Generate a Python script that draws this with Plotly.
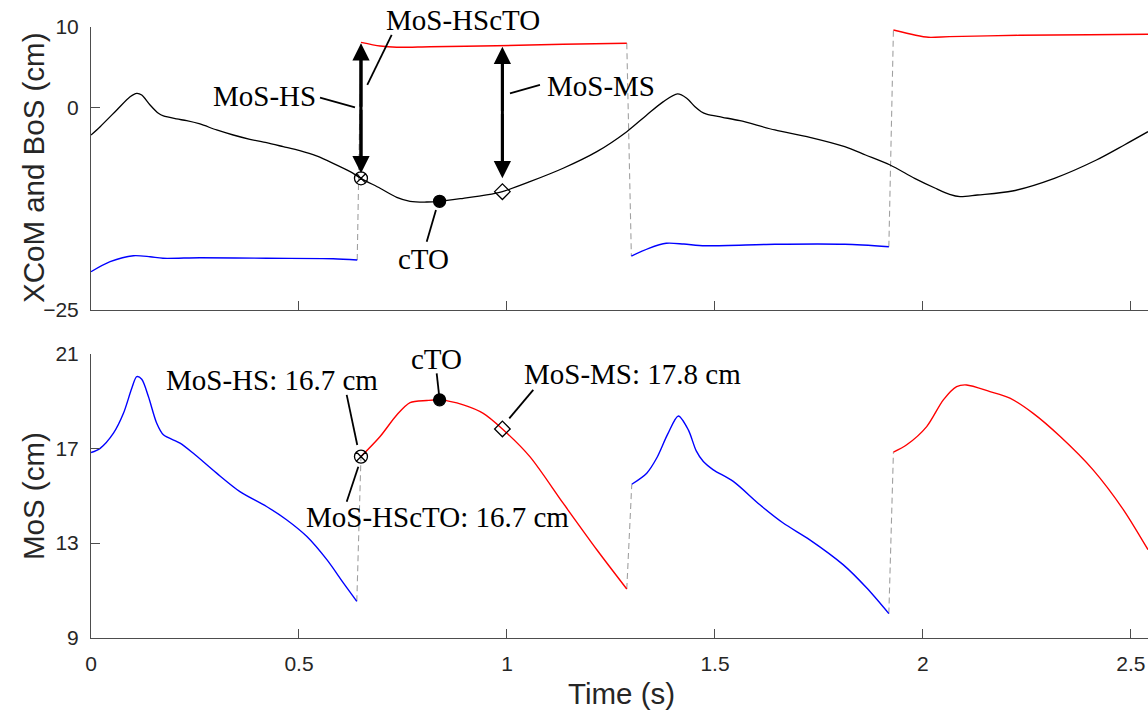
import plotly.graph_objects as go

# ---------------- data ----------------
# Top panel: XCoM (black)
xcom_t = [0.000, 0.022, 0.062, 0.094, 0.110, 0.122, 0.142, 0.162, 0.174, 0.206, 0.230, 0.262,
          0.302, 0.342, 0.382, 0.422, 0.462, 0.502, 0.542, 0.582, 0.623, 0.649, 0.695, 0.735,
          0.767, 0.807, 0.838, 0.895, 0.951, 0.989, 1.055, 1.135, 1.216, 1.288, 1.336, 1.376,
          1.410, 1.432, 1.452, 1.467, 1.480, 1.518, 1.560, 1.644, 1.728, 1.812, 1.862, 1.921,
          1.980, 2.030, 2.064, 2.089, 2.131, 2.215, 2.316, 2.417, 2.484, 2.541]
xcom_v = [-3.38, -2.35, -0.29, 1.35, 1.77, 1.56, 0.33, -0.70, -1.03, -1.40, -1.61, -2.02,
          -2.76, -3.38, -3.91, -4.33, -4.82, -5.32, -5.97, -6.88, -7.91, -8.73, -9.96, -11.08,
          -11.57, -11.66, -11.57, -11.20, -10.79, -10.38, -9.15, -7.49, -5.44, -2.97, -0.91, 0.74,
          1.69, 1.16, 0.10, -0.50, -0.80, -1.19, -1.61, -2.76, -3.66, -4.82, -5.85, -7.09,
          -8.73, -9.96, -10.71, -11.00, -10.79, -10.30, -8.73, -6.47, -4.61, -2.97]

# Top panel: BoS segments
bos_blue1_t = [0.000, 0.046, 0.102, 0.142, 0.173, 0.262, 0.422, 0.582, 0.640]
bos_blue1_v = [-20.27, -19.03, -18.29, -18.42, -18.61, -18.54, -18.61, -18.66, -18.82]
bos_red1_t = [0.649, 0.695, 0.735, 0.815, 0.975, 1.135, 1.288]
bos_red1_v = [8.07, 7.62, 7.46, 7.53, 7.65, 7.83, 7.95]
bos_blue2_t = [1.299, 1.341, 1.383, 1.425, 1.476, 1.644, 1.812, 1.918]
bos_blue2_v = [-18.33, -17.38, -16.76, -16.85, -17.06, -16.88, -16.88, -17.18]
bos_red2_t = [1.929, 1.980, 2.013, 2.064, 2.232, 2.400, 2.541]
bos_red2_v = [9.59, 8.97, 8.69, 8.77, 8.94, 9.01, 9.06]

# Bottom panel: MoS segments
mos_blue1_t = [0.000, 0.022, 0.054, 0.078, 0.098, 0.110, 0.122, 0.138, 0.158, 0.174, 0.214,
               0.246, 0.302, 0.358, 0.422, 0.470, 0.519, 0.567, 0.607, 0.639]
mos_blue1_v = [16.83, 17.01, 17.65, 18.49, 19.55, 20.04, 19.93, 19.20, 18.07, 17.58, 17.23,
               16.80, 15.96, 15.18, 14.55, 13.99, 13.28, 12.30, 11.31, 10.54]
mos_red1_t = [0.649, 0.695, 0.735, 0.767, 0.807, 0.839, 0.895, 0.943, 0.989, 1.055, 1.135, 1.216, 1.288]
mos_red1_v = [16.66, 17.51, 18.42, 18.94, 19.03, 19.06, 18.85, 18.49, 17.83, 16.66, 14.69, 12.72, 11.06]
mos_blue2_t = [1.300, 1.336, 1.360, 1.386, 1.412, 1.436, 1.455, 1.472, 1.496, 1.544, 1.608,
               1.664, 1.728, 1.808, 1.865, 1.918]
mos_blue2_v = [15.49, 15.96, 16.60, 17.60, 18.38, 17.79, 16.90, 16.45, 16.10, 15.61, 14.62,
               13.85, 13.14, 12.09, 11.10, 10.02]
mos_red2_t = [1.929, 1.961, 2.009, 2.049, 2.081, 2.105, 2.161, 2.209, 2.265, 2.330, 2.409, 2.482, 2.541]
mos_red2_v = [16.85, 17.16, 17.93, 19.06, 19.62, 19.69, 19.41, 19.13, 18.49, 17.51, 16.10, 14.41, 12.72]

# Events: HS, cTO, MS
event_t = [0.649, 0.838, 0.989]
event_xcom = [-8.73, -11.57, -10.38]
event_mos = [16.66, 19.06, 17.83]
event_symbols = ["circle-x-open", "circle", "diamond-open"]
event_sizes = [13, 12, 12]

# Double arrows (top panel): time, upper tip, lower tip
arrow_t = [0.649, 0.989]
arrow_top = [7.95, 7.53]
arrow_bottom = [-8.11, -8.73]

# Tick labels
x_ticks = [0, 0.5, 1, 1.5, 2, 2.5]
x_ticktext = ["0", "0.5", "1", "1.5", "2", "2.5"]
y1_ticks = [-25, 0, 10]
y2_ticks = [9, 13, 17, 21]

# ---------------- figure ----------------
W, H = 1148, 713
RED, BLUE, BLACK, GRAY = "#ff0000", "#0000ff", "#000000", "#a0a0a0"
AX = "#4d4d4d"

fig = go.Figure()

def line(t, v, color, xa, ya, width=1.4, dash=None, spline=True):
    fig.add_trace(go.Scatter(
        x=t, y=v, mode="lines", xaxis=xa, yaxis=ya, showlegend=False, hoverinfo="skip",
        line=dict(color=color, width=width, dash=dash,
                  shape="spline" if spline else "linear", smoothing=0.8)))

# dashed connectors (top)
for a_t, a_v, b_t, b_v in [(bos_blue1_t, bos_blue1_v, bos_red1_t, bos_red1_v),
                           (bos_red1_t, bos_red1_v, bos_blue2_t, bos_blue2_v),
                           (bos_blue2_t, bos_blue2_v, bos_red2_t, bos_red2_v)]:
    line([a_t[-1], b_t[0]], [a_v[-1], b_v[0]], GRAY, "x", "y", width=1.1, dash="6px,4px", spline=False)
# dashed connectors (bottom)
for a_t, a_v, b_t, b_v in [(mos_blue1_t, mos_blue1_v, mos_red1_t, mos_red1_v),
                           (mos_red1_t, mos_red1_v, mos_blue2_t, mos_blue2_v),
                           (mos_blue2_t, mos_blue2_v, mos_red2_t, mos_red2_v)]:
    line([a_t[-1], b_t[0]], [a_v[-1], b_v[0]], GRAY, "x2", "y2", width=1.1, dash="6px,4px", spline=False)

# top curves
line(bos_blue1_t, bos_blue1_v, BLUE, "x", "y")
line(bos_red1_t, bos_red1_v, RED, "x", "y")
line(bos_blue2_t, bos_blue2_v, BLUE, "x", "y")
line(bos_red2_t, bos_red2_v, RED, "x", "y")
line(xcom_t, xcom_v, BLACK, "x", "y", width=1.3)

# bottom curves
line(mos_blue1_t, mos_blue1_v, BLUE, "x2", "y2")
line(mos_red1_t, mos_red1_v, RED, "x2", "y2")
line(mos_blue2_t, mos_blue2_v, BLUE, "x2", "y2")
line(mos_red2_t, mos_red2_v, RED, "x2", "y2")

# event markers
for i in range(len(event_t)):
    for ya, vals in [("y", event_xcom), ("y2", event_mos)]:
        fig.add_trace(go.Scatter(
            x=[event_t[i]], y=[vals[i]], mode="markers", xaxis="x" if ya == "y" else "x2", yaxis=ya,
            showlegend=False, hoverinfo="skip",
            marker=dict(symbol=event_symbols[i], size=event_sizes[i], color=BLACK,
                        line=dict(color=BLACK, width=1.3))))

annotations = []
shapes = []
# double arrows: shaft as a line shape, heads as annotations pointing outwards
for t, top, bot in zip(arrow_t, arrow_top, arrow_bottom):
    mid = (top + bot) / 2
    shapes.append(dict(type="line", x0=t, x1=t, y0=top - 1.5, y1=bot + 1.5, xref="x", yref="y",
                       line=dict(color=BLACK, width=3)))
    for tip in (top, bot):
        annotations.append(dict(x=t, y=tip, ax=t, ay=mid, xref="x", yref="y", axref="x", ayref="y",
                                text="", showarrow=True, arrowhead=2, arrowsize=1.15,
                                arrowwidth=3, arrowcolor=BLACK, standoff=0, startstandoff=0))

SERIF = "Liberation Serif, Times New Roman, serif"
SANS = "Liberation Sans, Arial, sans-serif"

def label(text, x, y, xref, yref, xanchor="center"):
    annotations.append(dict(text=text, x=x, y=y, xref=xref, yref=yref, showarrow=False,
                            xanchor=xanchor, yanchor="middle",
                            font=dict(family=SERIF, size=29, color=BLACK)))

# top labels
label("MoS-HScTO", 463.3 / W, 1 - 20 / H, "paper", "paper")
label("MoS-HS", 0.416, 1.4, "x", "y")
label("MoS-MS", 1.2255, 2.65, "x", "y")
label("cTO", 0.8005, -18.7, "x", "y")
# bottom labels
label("MoS-HS: 16.7 cm", 0.4344, 19.92, "x2", "y2")
label("MoS-HScTO: 16.7 cm", 0.833, 14.09, "x2", "y2")
label("cTO", 0.831, 20.8, "x2", "y2")
label("MoS-MS: 17.8 cm", 1.3012, 20.17, "x2", "y2")

# axis titles
annotations.append(dict(text="XCoM and BoS (cm)", x=33 / W, y=1 - 168 / H, xref="paper", yref="paper",
                        showarrow=False, textangle=-90, xanchor="center", yanchor="middle",
                        font=dict(family=SANS, size=29.5, color="#262626")))
annotations.append(dict(text="MoS (cm)", x=33 / W, y=1 - 496 / H, xref="paper", yref="paper",
                        showarrow=False, textangle=-90, xanchor="center", yanchor="middle",
                        font=dict(family=SANS, size=29.5, color="#262626")))
annotations.append(dict(text="Time (s)", x=621 / W, y=1 - 693 / H, xref="paper", yref="paper",
                        showarrow=False, xanchor="center", yanchor="middle",
                        font=dict(family=SANS, size=29.5, color="#262626")))

# leader lines
leaders = [  # (x0, y0, x1, y1, xref, yref)
    (0.7228, 8.98, 0.6642, 2.80, "x", "y"),
    (0.5505, 1.23, 0.6346, 0.04, "x", "y"),
    (1.0072, 1.77, 1.0793, 2.80, "x", "y"),
    (0.8293, -12.64, 0.8070, -16.56, "x", "y"),
    (0.6147, 19.27, 0.6401, 17.15, "x2", "y2"),
    (0.6147, 14.75, 0.6426, 16.23, "x2", "y2"),
    (0.8310, 20.18, 0.8373, 19.19, "x2", "y2"),
    (1.0632, 19.48, 1.0055, 18.28, "x2", "y2"),
]
for x0, y0, x1, y1, xr, yr in leaders:
    shapes.append(dict(type="line", x0=x0, y0=y0, x1=x1, y1=y1, xref=xr, yref=yr,
                       line=dict(color=BLACK, width=1.8)))

xdom = [91 / W, 1.0]
axis_common = dict(showgrid=False, zeroline=False, showline=True, linecolor=AX, linewidth=1,
                   ticks="inside", ticklen=9, tickcolor=AX, tickwidth=1, automargin=False,
                   tickfont=dict(family=SANS, size=21, color="#262626"))

fig.update_layout(
    width=W, height=H, margin=dict(l=0, r=0, t=0, b=0),
    paper_bgcolor="white", plot_bgcolor="white", showlegend=False,
    xaxis=dict(domain=xdom, range=[0, 2.541], anchor="y", tickvals=x_ticks, showticklabels=False,
               **axis_common),
    yaxis=dict(domain=[1 - 310 / H, 1 - 26.7 / H], range=[-25, 10], anchor="x", tickvals=y1_ticks,
               ticklabelstandoff=7, **axis_common),
    xaxis2=dict(domain=xdom, range=[0, 2.541], anchor="y2", tickvals=x_ticks, ticktext=x_ticktext,
                ticklabelstandoff=7, **axis_common),
    yaxis2=dict(domain=[1 - 637.7 / H, 1 - 354 / H], range=[9, 21], anchor="x2", tickvals=y2_ticks,
                ticklabelstandoff=7, **axis_common),
    annotations=annotations, shapes=shapes,
)

fig.write_html("out.html")
